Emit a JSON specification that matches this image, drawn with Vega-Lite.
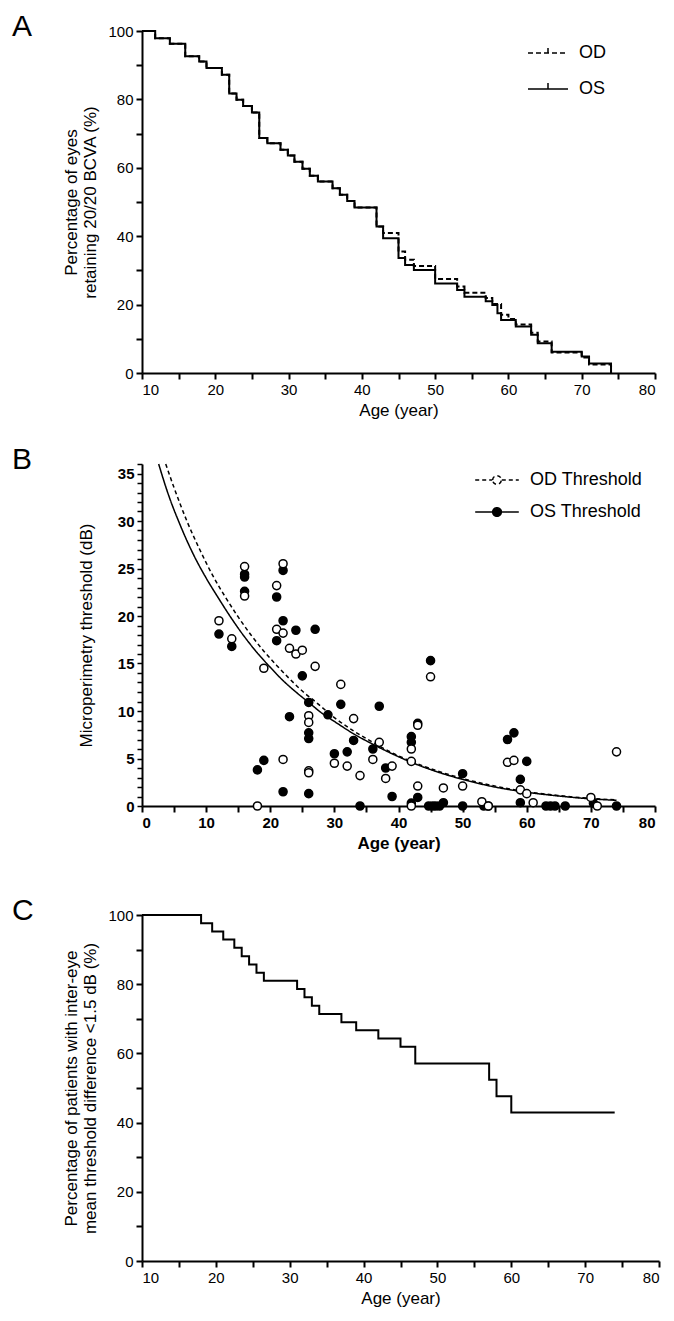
{
  "$schema": "https://vega.github.io/schema/vega-lite/v6.json",
  "padding": {"left": 12, "top": 12, "right": 5, "bottom": 5},
  "background": "white",
  "config": {
    "font": "Liberation Sans",
    "view": {"stroke": null},
    "axis": {"domainColor": "black", "domainWidth": 2, "tickColor": "black", "tickWidth": 2, "tickSize": 6, "labelFontSize": 15, "labelColor": "black", "titleFontSize": 17, "titleFontWeight": "normal", "titleColor": "black", "grid": false, "labelPadding": 3, "labelOverlap": false},
    "legend": {"labelFontSize": 18, "labelColor": "black"},
    "point": {"opacity": 1},
    "title": {"fontSize": 30, "fontWeight": "normal", "anchor": "start", "color": "black", "font": "Liberation Sans", "frame": "group"}
  },
  "resolve": {"scale": {"strokeDash": "independent", "fill": "independent"}, "legend": {"strokeDash": "independent", "fill": "independent"}},
  "datasets": {
    "kmA": [
      {"age": 10, "pct": 100, "eye": "OD"}, {"age": 11.8, "pct": 97.9, "eye": "OD"}, {"age": 13.8, "pct": 96.3, "eye": "OD"}, {"age": 15.9, "pct": 92.6, "eye": "OD"}, {"age": 17.8, "pct": 91.1, "eye": "OD"}, {"age": 18.8, "pct": 89.2, "eye": "OD"}, {"age": 20.9, "pct": 87.2, "eye": "OD"}, {"age": 21.9, "pct": 81.7, "eye": "OD"}, {"age": 22.9, "pct": 79.9, "eye": "OD"}, {"age": 23.8, "pct": 78.1, "eye": "OD"}, {"age": 25, "pct": 76.2, "eye": "OD"}, {"age": 26, "pct": 68.7, "eye": "OD"}, {"age": 27.1, "pct": 67.2, "eye": "OD"}, {"age": 28.9, "pct": 65.3, "eye": "OD"}, {"age": 29.9, "pct": 63.6, "eye": "OD"}, {"age": 30.8, "pct": 61.8, "eye": "OD"}, {"age": 31.9, "pct": 59.7, "eye": "OD"}, {"age": 32.9, "pct": 57.7, "eye": "OD"}, {"age": 34, "pct": 56, "eye": "OD"}, {"age": 36, "pct": 54, "eye": "OD"}, {"age": 37, "pct": 52.1, "eye": "OD"}, {"age": 38, "pct": 50.3, "eye": "OD"}, {"age": 39, "pct": 48.4, "eye": "OD"}, {"age": 42, "pct": 42.8, "eye": "OD"}, {"age": 42.9, "pct": 40.9, "eye": "OD"}, {"age": 45, "pct": 35.5, "eye": "OD"}, {"age": 45.9, "pct": 33.1, "eye": "OD"}, {"age": 47.1, "pct": 31.3, "eye": "OD"}, {"age": 50, "pct": 27.5, "eye": "OD"}, {"age": 53, "pct": 25.3, "eye": "OD"}, {"age": 54, "pct": 23.5, "eye": "OD"}, {"age": 56.9, "pct": 21.9, "eye": "OD"}, {"age": 57.8, "pct": 20.2, "eye": "OD"}, {"age": 59, "pct": 17.0, "eye": "OD"}, {"age": 60, "pct": 15.8, "eye": "OD"}, {"age": 61, "pct": 14.2, "eye": "OD"}, {"age": 63.1, "pct": 11.8, "eye": "OD"}, {"age": 64, "pct": 9.2, "eye": "OD"}, {"age": 65.9, "pct": 6.0, "eye": "OD"}, {"age": 70, "pct": 4.5, "eye": "OD"}, {"age": 71, "pct": 2.5, "eye": "OD"}, {"age": 74, "pct": 0, "eye": "OD"},
      {"age": 10, "pct": 100, "eye": "OS"}, {"age": 11.8, "pct": 97.9, "eye": "OS"}, {"age": 13.8, "pct": 96.3, "eye": "OS"}, {"age": 15.9, "pct": 92.6, "eye": "OS"}, {"age": 17.8, "pct": 91.1, "eye": "OS"}, {"age": 18.8, "pct": 89.2, "eye": "OS"}, {"age": 20.9, "pct": 87.2, "eye": "OS"}, {"age": 21.9, "pct": 81.7, "eye": "OS"}, {"age": 22.9, "pct": 79.9, "eye": "OS"}, {"age": 23.8, "pct": 78.1, "eye": "OS"}, {"age": 25, "pct": 76.2, "eye": "OS"}, {"age": 26, "pct": 68.7, "eye": "OS"}, {"age": 27.1, "pct": 67.2, "eye": "OS"}, {"age": 28.9, "pct": 65.3, "eye": "OS"}, {"age": 29.9, "pct": 63.6, "eye": "OS"}, {"age": 30.8, "pct": 61.8, "eye": "OS"}, {"age": 31.9, "pct": 59.7, "eye": "OS"}, {"age": 32.9, "pct": 57.7, "eye": "OS"}, {"age": 34, "pct": 56, "eye": "OS"}, {"age": 36, "pct": 54, "eye": "OS"}, {"age": 37, "pct": 52.1, "eye": "OS"}, {"age": 38, "pct": 50.3, "eye": "OS"}, {"age": 39, "pct": 48.4, "eye": "OS"}, {"age": 42, "pct": 42.8, "eye": "OS"}, {"age": 42.9, "pct": 39.4, "eye": "OS"}, {"age": 45, "pct": 33.6, "eye": "OS"}, {"age": 45.9, "pct": 31.6, "eye": "OS"}, {"age": 47.1, "pct": 30.1, "eye": "OS"}, {"age": 50, "pct": 26.2, "eye": "OS"}, {"age": 53, "pct": 24.3, "eye": "OS"}, {"age": 54, "pct": 22.3, "eye": "OS"}, {"age": 56.9, "pct": 21.0, "eye": "OS"}, {"age": 57.8, "pct": 19.9, "eye": "OS"}, {"age": 58.5, "pct": 17.5, "eye": "OS"}, {"age": 59, "pct": 15.5, "eye": "OS"}, {"age": 61, "pct": 13.6, "eye": "OS"}, {"age": 63.1, "pct": 11.2, "eye": "OS"}, {"age": 64, "pct": 8.7, "eye": "OS"}, {"age": 65.9, "pct": 6.2, "eye": "OS"}, {"age": 70, "pct": 4.8, "eye": "OS"}, {"age": 71, "pct": 2.8, "eye": "OS"}, {"age": 74, "pct": 0, "eye": "OS"}
    ],
    "curvesB": [
      {"age": 3.7, "db": 36.0, "series": "OD Threshold"}, {"age": 5, "db": 33.5, "series": "OD Threshold"}, {"age": 7, "db": 30.0, "series": "OD Threshold"}, {"age": 9, "db": 27.0, "series": "OD Threshold"}, {"age": 11, "db": 24.3, "series": "OD Threshold"}, {"age": 13, "db": 22.0, "series": "OD Threshold"}, {"age": 15, "db": 19.9, "series": "OD Threshold"}, {"age": 17, "db": 18.0, "series": "OD Threshold"}, {"age": 19, "db": 16.3, "series": "OD Threshold"}, {"age": 21, "db": 14.8, "series": "OD Threshold"}, {"age": 23, "db": 13.4, "series": "OD Threshold"}, {"age": 25, "db": 12.1, "series": "OD Threshold"}, {"age": 27, "db": 11.0, "series": "OD Threshold"}, {"age": 30, "db": 9.3, "series": "OD Threshold"}, {"age": 33, "db": 7.9, "series": "OD Threshold"}, {"age": 36, "db": 6.7, "series": "OD Threshold"}, {"age": 39, "db": 5.6, "series": "OD Threshold"}, {"age": 42, "db": 4.7, "series": "OD Threshold"}, {"age": 46, "db": 3.7, "series": "OD Threshold"}, {"age": 50, "db": 2.9, "series": "OD Threshold"}, {"age": 55, "db": 2.1, "series": "OD Threshold"}, {"age": 60, "db": 1.5, "series": "OD Threshold"}, {"age": 65, "db": 1.1, "series": "OD Threshold"}, {"age": 70, "db": 0.8, "series": "OD Threshold"}, {"age": 74, "db": 0.65, "series": "OD Threshold"},
      {"age": 2.6, "db": 36.0, "series": "OS Threshold"}, {"age": 4, "db": 33.0, "series": "OS Threshold"}, {"age": 6, "db": 29.5, "series": "OS Threshold"}, {"age": 8, "db": 26.5, "series": "OS Threshold"}, {"age": 10, "db": 24.0, "series": "OS Threshold"}, {"age": 12, "db": 21.8, "series": "OS Threshold"}, {"age": 14, "db": 19.7, "series": "OS Threshold"}, {"age": 16, "db": 17.8, "series": "OS Threshold"}, {"age": 18, "db": 16.1, "series": "OS Threshold"}, {"age": 20, "db": 14.6, "series": "OS Threshold"}, {"age": 22, "db": 13.2, "series": "OS Threshold"}, {"age": 24, "db": 12.0, "series": "OS Threshold"}, {"age": 26, "db": 10.9, "series": "OS Threshold"}, {"age": 28, "db": 9.8, "series": "OS Threshold"}, {"age": 30, "db": 8.9, "series": "OS Threshold"}, {"age": 33, "db": 7.6, "series": "OS Threshold"}, {"age": 36, "db": 6.5, "series": "OS Threshold"}, {"age": 39, "db": 5.5, "series": "OS Threshold"}, {"age": 42, "db": 4.6, "series": "OS Threshold"}, {"age": 46, "db": 3.6, "series": "OS Threshold"}, {"age": 50, "db": 2.8, "series": "OS Threshold"}, {"age": 55, "db": 2.0, "series": "OS Threshold"}, {"age": 60, "db": 1.45, "series": "OS Threshold"}, {"age": 65, "db": 1.05, "series": "OS Threshold"}, {"age": 70, "db": 0.75, "series": "OS Threshold"}, {"age": 74, "db": 0.6, "series": "OS Threshold"}
    ],
    "pointsB": [
      {"age": 12, "db": 18.1, "series": "OS Threshold"}, {"age": 14, "db": 16.8, "series": "OS Threshold"}, {"age": 16, "db": 24.4, "series": "OS Threshold"}, {"age": 16, "db": 24.1, "series": "OS Threshold"}, {"age": 16, "db": 22.6, "series": "OS Threshold"}, {"age": 18, "db": 3.8, "series": "OS Threshold"}, {"age": 19, "db": 4.8, "series": "OS Threshold"}, {"age": 21, "db": 22.0, "series": "OS Threshold"}, {"age": 21, "db": 17.4, "series": "OS Threshold"}, {"age": 22, "db": 24.8, "series": "OS Threshold"}, {"age": 22, "db": 19.5, "series": "OS Threshold"}, {"age": 22, "db": 1.5, "series": "OS Threshold"}, {"age": 23, "db": 9.4, "series": "OS Threshold"}, {"age": 24, "db": 18.5, "series": "OS Threshold"}, {"age": 25, "db": 13.7, "series": "OS Threshold"}, {"age": 26, "db": 10.9, "series": "OS Threshold"}, {"age": 26, "db": 7.7, "series": "OS Threshold"}, {"age": 26, "db": 7.1, "series": "OS Threshold"}, {"age": 26, "db": 1.3, "series": "OS Threshold"}, {"age": 27, "db": 18.6, "series": "OS Threshold"}, {"age": 29, "db": 9.6, "series": "OS Threshold"}, {"age": 30, "db": 5.5, "series": "OS Threshold"}, {"age": 31, "db": 10.7, "series": "OS Threshold"}, {"age": 32, "db": 5.7, "series": "OS Threshold"}, {"age": 33, "db": 6.9, "series": "OS Threshold"}, {"age": 34, "db": 0, "series": "OS Threshold"}, {"age": 36, "db": 6.0, "series": "OS Threshold"}, {"age": 37, "db": 10.5, "series": "OS Threshold"}, {"age": 38, "db": 4.0, "series": "OS Threshold"}, {"age": 39, "db": 1.0, "series": "OS Threshold"}, {"age": 42, "db": 7.3, "series": "OS Threshold"}, {"age": 42, "db": 6.7, "series": "OS Threshold"}, {"age": 42, "db": 0.3, "series": "OS Threshold"}, {"age": 43, "db": 8.7, "series": "OS Threshold"}, {"age": 43, "db": 0.9, "series": "OS Threshold"}, {"age": 45, "db": 15.3, "series": "OS Threshold"}, {"age": 44.7, "db": 0, "series": "OS Threshold"}, {"age": 45.3, "db": 0, "series": "OS Threshold"}, {"age": 45.8, "db": 0, "series": "OS Threshold"}, {"age": 46.4, "db": 0, "series": "OS Threshold"}, {"age": 47, "db": 0.35, "series": "OS Threshold"}, {"age": 50, "db": 3.4, "series": "OS Threshold"}, {"age": 50, "db": 0, "series": "OS Threshold"}, {"age": 53.3, "db": 0, "series": "OS Threshold"}, {"age": 54, "db": 0, "series": "OS Threshold"}, {"age": 57, "db": 7.0, "series": "OS Threshold"}, {"age": 58, "db": 7.7, "series": "OS Threshold"}, {"age": 59, "db": 2.8, "series": "OS Threshold"}, {"age": 59, "db": 0.35, "series": "OS Threshold"}, {"age": 60, "db": 4.7, "series": "OS Threshold"}, {"age": 63, "db": 0, "series": "OS Threshold"}, {"age": 63.7, "db": 0, "series": "OS Threshold"}, {"age": 64.4, "db": 0, "series": "OS Threshold"}, {"age": 66, "db": 0, "series": "OS Threshold"}, {"age": 70.4, "db": 0.3, "series": "OS Threshold"}, {"age": 74, "db": 0, "series": "OS Threshold"},
      {"age": 12, "db": 19.5, "series": "OD Threshold"}, {"age": 14, "db": 17.6, "series": "OD Threshold"}, {"age": 16, "db": 25.2, "series": "OD Threshold"}, {"age": 16, "db": 22.1, "series": "OD Threshold"}, {"age": 18, "db": 0, "series": "OD Threshold"}, {"age": 19, "db": 14.5, "series": "OD Threshold"}, {"age": 21, "db": 23.2, "series": "OD Threshold"}, {"age": 21, "db": 18.6, "series": "OD Threshold"}, {"age": 22, "db": 25.5, "series": "OD Threshold"}, {"age": 22, "db": 18.2, "series": "OD Threshold"}, {"age": 22, "db": 4.9, "series": "OD Threshold"}, {"age": 23, "db": 16.6, "series": "OD Threshold"}, {"age": 24, "db": 16.0, "series": "OD Threshold"}, {"age": 25, "db": 16.4, "series": "OD Threshold"}, {"age": 26, "db": 9.5, "series": "OD Threshold"}, {"age": 26, "db": 8.8, "series": "OD Threshold"}, {"age": 26, "db": 3.7, "series": "OD Threshold"}, {"age": 26, "db": 3.5, "series": "OD Threshold"}, {"age": 27, "db": 14.7, "series": "OD Threshold"}, {"age": 30, "db": 4.5, "series": "OD Threshold"}, {"age": 31, "db": 12.8, "series": "OD Threshold"}, {"age": 32, "db": 4.2, "series": "OD Threshold"}, {"age": 33, "db": 9.2, "series": "OD Threshold"}, {"age": 34, "db": 3.2, "series": "OD Threshold"}, {"age": 36, "db": 4.9, "series": "OD Threshold"}, {"age": 37, "db": 6.7, "series": "OD Threshold"}, {"age": 38, "db": 2.9, "series": "OD Threshold"}, {"age": 39, "db": 4.2, "series": "OD Threshold"}, {"age": 42, "db": 6.0, "series": "OD Threshold"}, {"age": 42, "db": 4.7, "series": "OD Threshold"}, {"age": 42, "db": 0, "series": "OD Threshold"}, {"age": 43, "db": 8.5, "series": "OD Threshold"}, {"age": 43, "db": 2.1, "series": "OD Threshold"}, {"age": 45, "db": 13.6, "series": "OD Threshold"}, {"age": 47, "db": 1.9, "series": "OD Threshold"}, {"age": 50, "db": 2.1, "series": "OD Threshold"}, {"age": 53, "db": 0.45, "series": "OD Threshold"}, {"age": 54, "db": 0, "series": "OD Threshold"}, {"age": 57, "db": 4.6, "series": "OD Threshold"}, {"age": 58, "db": 4.8, "series": "OD Threshold"}, {"age": 59, "db": 1.7, "series": "OD Threshold"}, {"age": 60, "db": 1.3, "series": "OD Threshold"}, {"age": 61, "db": 0.35, "series": "OD Threshold"}, {"age": 70, "db": 0.9, "series": "OD Threshold"}, {"age": 71, "db": 0, "series": "OD Threshold"}, {"age": 74, "db": 5.7, "series": "OD Threshold"}
    ],
    "kmC": [
      {"age": 10, "pct": 100}, {"age": 18, "pct": 97.6}, {"age": 19.5, "pct": 95.2}, {"age": 21, "pct": 92.9}, {"age": 22.5, "pct": 90.5}, {"age": 23.5, "pct": 88.1}, {"age": 24.5, "pct": 85.7}, {"age": 25.5, "pct": 83.3}, {"age": 26.5, "pct": 81.0}, {"age": 31, "pct": 78.6}, {"age": 32, "pct": 76.2}, {"age": 33, "pct": 73.8}, {"age": 34, "pct": 71.4}, {"age": 37, "pct": 69.0}, {"age": 39, "pct": 66.7}, {"age": 42, "pct": 64.3}, {"age": 45, "pct": 61.9}, {"age": 47, "pct": 57.1}, {"age": 57, "pct": 52.4}, {"age": 58, "pct": 47.6}, {"age": 60, "pct": 42.9}, {"age": 74, "pct": 42.9}
    ]
  },
  "vconcat": [
    {
      "width": 513, "height": 342,
      "title": {"text": "A", "dx": -130, "dy": 22},
      "data": {"name": "kmA"},
      "mark": {"type": "line", "interpolate": "step-after", "color": "black", "strokeWidth": 2},
      "encoding": {
        "x": {"field": "age", "type": "quantitative", "scale": {"domain": [10, 80], "nice": false, "zero": false},
          "axis": {"title": "Age (year)", "values": [10, 15, 20, 25, 30, 35, 40, 45, 50, 55, 60, 65, 70, 75, 80], "labelExpr": "datum.value % 10 === 0 ? datum.label : ''", "labelOverlap": false, "titlePadding": 5}},
        "y": {"field": "pct", "type": "quantitative", "scale": {"domain": [0, 100], "nice": false},
          "axis": {"title": ["Percentage of eyes", "retaining 20/20 BCVA (%)"], "values": [0, 10, 20, 30, 40, 50, 60, 70, 80, 90, 100], "labelExpr": "datum.value % 20 === 0 ? datum.label : ''", "labelOverlap": false, "titlePadding": 8}},
        "strokeDash": {"field": "eye", "type": "nominal", "scale": {"domain": ["OD", "OS"], "range": [[5, 3], [1, 0]]},
          "legend": {"title": null, "orient": "none", "legendX": 385, "legendY": 1, "symbolType": "M-1,0H1M0,0V-0.3", "symbolSize": 1600, "symbolStrokeColor": "black", "symbolStrokeWidth": 1.5, "rowPadding": 6, "labelOffset": 10}}
      }
    },
    {
      "spacing": 45,
      "resolve": {"scale": {"strokeDash": "independent", "fill": "independent"}, "legend": {"strokeDash": "independent", "fill": "independent"}},
      "vconcat": [
        {
          "width": 513, "height": 342,
          "title": {"text": "B", "dx": -130, "dy": 22},
          "encoding": {
            "x": {"field": "age", "type": "quantitative", "scale": {"domain": [0, 80], "nice": false},
              "axis": {"title": "Age (year)", "titleFontWeight": "bold", "labelFontWeight": "bold", "values": [0, 5, 10, 15, 20, 25, 30, 35, 40, 45, 50, 55, 60, 65, 70, 75, 80], "labelExpr": "datum.value % 10 === 0 ? datum.label : ''", "labelOverlap": false, "titlePadding": 5}},
            "y": {"field": "db", "type": "quantitative", "scale": {"domain": [0, 36], "nice": false},
              "axis": {"title": "Microperimetry threshold (dB)", "labelFontWeight": "bold", "values": [0, 1, 2, 3, 4, 5, 6, 7, 8, 9, 10, 11, 12, 13, 14, 15, 16, 17, 18, 19, 20, 21, 22, 23, 24, 25, 26, 27, 28, 29, 30, 31, 32, 33, 34, 35, 36], "labelExpr": "datum.value % 5 === 0 ? datum.label : ''", "labelOverlap": false, "tickSize": 5, "tickWidth": 1.5, "titlePadding": 22}}
          },
          "layer": [
            {
              "data": {"name": "curvesB"},
              "mark": {"type": "line", "interpolate": "monotone", "color": "black", "strokeWidth": 1.5},
              "encoding": {
                "strokeDash": {"field": "series", "type": "nominal", "scale": {"domain": ["OD Threshold", "OS Threshold"], "range": [[4, 3], [1, 0]]},
                  "legend": {"title": null, "orient": "none", "legendX": 332, "legendY": -7, "symbolType": "M-1,0H-0.22M0.22,0H1M-0.2,0A0.2,0.2 0 1,1 0.2,0A0.2,0.2 0 1,1 -0.2,0", "symbolSize": 1900, "symbolStrokeColor": "black", "symbolStrokeWidth": 1.5, "rowPadding": 0, "labelOffset": 10}}
              }
            },
            {
              "data": {"name": "pointsB"},
              "mark": {"type": "point", "shape": "circle", "filled": true, "size": 65, "stroke": "black", "strokeWidth": 1.5, "opacity": 1},
              "encoding": {
                "fill": {"field": "series", "type": "nominal", "scale": {"domain": ["OD Threshold", "OS Threshold"], "range": ["white", "black"]},
                  "legend": {"title": null, "orient": "none", "legendX": 332, "legendY": -7, "symbolType": "M-1,0H-0.22M0.22,0H1M-0.2,0A0.2,0.2 0 1,1 0.2,0A0.2,0.2 0 1,1 -0.2,0", "symbolSize": 1900, "symbolStrokeColor": "black", "symbolStrokeWidth": 1.5, "rowPadding": 0, "labelOffset": 10}}
              }
            }
          ]
        },
        {
          "width": 517, "height": 346,
          "title": {"text": "C", "dx": -130, "dy": 22},
          "data": {"name": "kmC"},
          "mark": {"type": "line", "interpolate": "step-after", "color": "black", "strokeWidth": 2},
          "encoding": {
            "x": {"field": "age", "type": "quantitative", "scale": {"domain": [10, 80], "nice": false, "zero": false},
              "axis": {"title": "Age (year)", "values": [10, 15, 20, 25, 30, 35, 40, 45, 50, 55, 60, 65, 70, 75, 80], "labelExpr": "datum.value % 10 === 0 ? datum.label : ''", "labelOverlap": false, "titlePadding": 5}},
            "y": {"field": "pct", "type": "quantitative", "scale": {"domain": [0, 100], "nice": false},
              "axis": {"title": ["Percentage of patients with inter-eye", "mean threshold difference <1.5 dB (%)"], "values": [0, 10, 20, 30, 40, 50, 60, 70, 80, 90, 100], "labelExpr": "datum.value % 20 === 0 ? datum.label : ''", "labelOverlap": false, "titlePadding": 8}}
          }
        }
      ]
    }
  ],
  "spacing": 27
}
